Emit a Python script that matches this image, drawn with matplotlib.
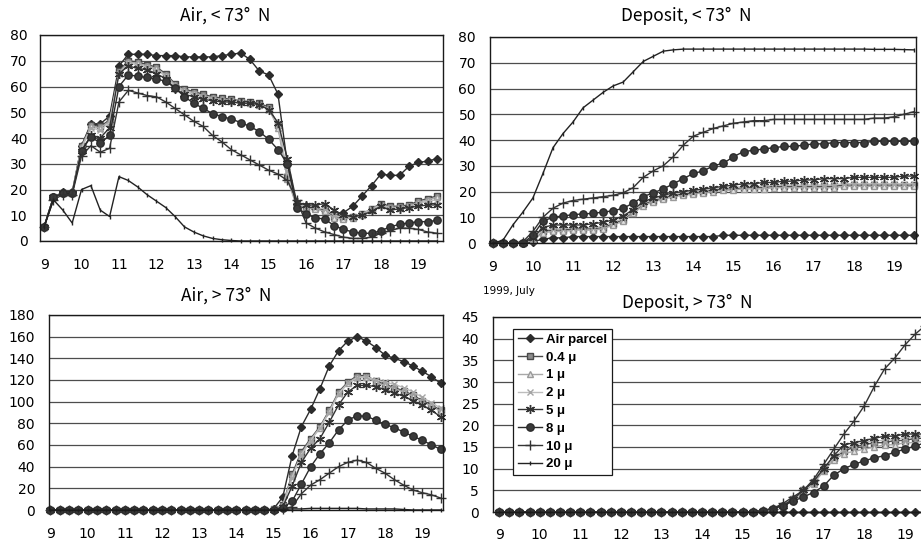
import numpy as np
import matplotlib.pyplot as plt


plt.rcParams["font.family"] = ["DejaVu Sans"]

# 6-hourly steps, July 1999
DAYS = np.arange(9.0, 19.51, 0.25)
DAY_TICKS = [9, 10, 11, 12, 13, 14, 15, 16, 17, 18, 19]
SIZE_LABELS = ["Air parcel", "0.4 μ", "1 μ", "2 μ", "5 μ", "8 μ", "10 μ", "20 μ"]

# ---- Air, < 73 N ----
AIR_LO_PARCEL = [5.5, 17, 19, 19, 37, 45.5, 45.5, 48.5, 68, 72.5,
                 72.5, 72.5, 72, 72, 72, 71.5, 71.5, 71.5, 71.5, 72,
                 72.5, 73, 70.5, 66, 64.5, 57, 30, 14.5, 13.5, 13,
                 12, 10.5, 11, 13.5, 17.5, 21.5, 26, 25.5, 25.5, 29,
                 30.5, 31, 32]
AIR_LO_04 = [5.5, 17, 18.5, 18.5, 37, 45, 44.5, 47, 66, 70,
             69.5, 68.5, 67.5, 65, 61, 59, 58, 57, 56, 55.5,
             55, 54.5, 54, 53.5, 52, 45, 25, 14, 13, 13,
             12, 9.5, 9, 9.5, 10.5, 12.5, 14.5, 13.5, 13.5, 14,
             15.5, 16.5, 17.5]
AIR_LO_1 = [5.5, 17, 18.5, 18.5, 36.5, 44.5, 44, 46.5, 65.5, 69.5,
            69, 68, 67, 64.5, 60.5, 58.5, 57.5, 56.5, 55.5, 55,
            54.5, 54, 53.5, 53, 51.5, 44, 24, 13.5, 13, 12.5,
            11.5, 9, 8.5, 9, 10, 12, 14, 13, 13, 13.5,
            15, 16, 17]
AIR_LO_2 = [5.5, 17, 18.5, 18.5, 36, 44, 43, 46, 65, 69,
            68.5, 67.5, 66.5, 64, 60, 58, 57, 56, 55, 54.5,
            54.5, 54, 53.5, 53, 51, 45, 27, 14, 13.5, 13,
            12.5, 10, 9, 9.5, 10.5, 12.5, 14, 13, 13, 13.5,
            14.5, 15.5, 16]
AIR_LO_5 = [5.5, 17, 18.5, 18.5, 35, 41, 40, 44, 65, 68,
            67, 66.5, 65, 63, 59, 57, 56, 55, 54.5, 54,
            54, 53.5, 53.5, 53, 51, 46, 32, 15, 14, 14,
            14.5, 12, 10, 9.5, 10, 11.5, 13.5, 12, 12.5, 13,
            13.5, 14, 14]
AIR_LO_8 = [5.5, 17, 18.5, 18.5, 35, 40.5, 38, 41, 60, 64.5,
            64, 63.5, 63, 62, 59.5, 56, 53.5, 51.5, 49.5, 48.3,
            47.4, 46, 44.5, 42.5, 39.5, 35.5, 30, 13, 10.5, 9,
            8.5, 6, 4.5, 3.5, 3, 3, 4, 5.5, 6.5, 7,
            7.5, 7.5, 8]
AIR_LO_10 = [5.5, 16, 18, 18, 33, 37, 34.5, 36, 54, 58.5,
             57.5, 56.5, 56, 54, 51.5, 49, 46.5, 44.5, 41, 38.5,
             35.5, 33.5, 31.5, 29.5, 27.5, 26, 23.5, 16, 7, 5,
             3.5, 2.5, 1.5, 1, 1, 1.5, 3, 4, 5, 5,
             4.5, 3.5, 3]
AIR_LO_20 = [5.5, 16, 12, 7, 20, 21.5, 12, 9.5, 25, 23.5,
             21, 18, 15.5, 13, 9.5, 5.5, 3.5, 2, 1, 0.5,
             0.2, 0, 0, 0, 0, 0, 0, 0, 0, 0,
             0, 0, 0, 0, 0, 0, 0, 0, 0, 0,
             0, 0, 0]

# ---- Deposit, < 73 N ----
DEP_LO_PARCEL = [0, 0, 0, 0, 0.5, 1.5, 2, 2, 2.5, 2.5,
                 2.5, 2.5, 2.5, 2.5, 2.5, 2.5, 2.5, 2.5, 2.5, 2.5,
                 2.5, 2.5, 2.5, 3, 3, 3, 3, 3, 3, 3,
                 3, 3, 3, 3, 3, 3, 3, 3, 3, 3,
                 3, 3, 3]
DEP_LO_04 = [0, 0, 0, 0, 1, 4.5, 5, 5, 5.5, 5.5,
             5.5, 6, 7.5, 9, 12, 15, 16.5, 17.5, 18.5, 19,
             19.5, 20, 20.5, 21, 21, 21.5, 21.5, 21.5, 22, 22,
             22, 22, 22, 22, 22, 22.5, 22.5, 22.5, 22.5, 22.5,
             22.5, 22.5, 22.5]
DEP_LO_1 = [0, 0, 0, 0, 1, 4, 4.5, 4.5, 5, 5,
            5, 5.5, 7, 8.5, 11.5, 14.5, 16, 17, 18, 18.5,
            19, 19.5, 20, 20.5, 20.5, 21, 21, 21, 21.5, 21.5,
            21.5, 21.5, 21.5, 21.5, 21.5, 22, 22, 22, 22, 22,
            22, 22, 22]
DEP_LO_2 = [0, 0, 0, 0, 1.5, 5, 5.5, 5.5, 6, 6,
            6, 6.5, 8, 9.5, 12.5, 15.5, 17, 18, 19, 19.5,
            20, 20.5, 21, 21.5, 21.5, 22, 22, 22, 22.5, 22.5,
            22.5, 22.5, 22.5, 22.5, 22.5, 23, 23, 23, 23, 23,
            23, 23, 23]
DEP_LO_5 = [0, 0, 0, 0, 2, 6, 7, 7, 7, 7,
            7.5, 8, 9, 10.5, 13, 16, 17.5, 18.5, 19.5, 20,
            20.5, 21, 21.5, 22, 22.5, 23, 23, 23.5, 23.5, 24,
            24, 24.5, 24.5, 25, 25, 25, 25.5, 25.5, 25.5, 25.5,
            25.5, 26, 26]
DEP_LO_8 = [0, 0, 0, 0, 3, 8.5, 10, 10.5, 11, 11.3,
            11.5, 12, 12.5, 13.5, 15.5, 18, 19.5, 21, 23, 25,
            27, 28, 30, 31, 33.5, 35.5, 36, 36.5, 37, 37.5,
            37.5, 38, 38.5, 38.5, 39, 39, 39, 39, 39.5, 39.5,
            39.5, 39.5, 39.5]
DEP_LO_10 = [0, 0, 0, 0.5, 4.5, 10, 13.5, 15.5, 16.5, 17,
             17.5, 18, 18.5, 19.5, 21.5, 25.5, 28, 30, 33.5, 38,
             41.5, 43, 44.5, 45.5, 46.5, 47, 47.5, 47.5, 48, 48,
             48, 48, 48, 48, 48, 48, 48, 48, 48.5, 48.5,
             49, 50, 51]
DEP_LO_20 = [0, 1, 7, 12, 17.5, 27, 37, 42.5, 47, 52.5,
             55.5, 58.5, 61, 62.5, 66.5, 70.5, 72.5, 74.5, 75, 75.3,
             75.3, 75.3, 75.3, 75.3, 75.3, 75.3, 75.3, 75.3, 75.3, 75.3,
             75.3, 75.3, 75.3, 75.3, 75.3, 75.3, 75.3, 75.3, 75.2, 75.2,
             75.2, 75.1, 75]

# ---- Air, > 73 N ----
AIR_HI_PARCEL = [0, 0, 0, 0, 0, 0, 0, 0, 0, 0,
                 0, 0, 0, 0, 0, 0, 0, 0, 0, 0,
                 0, 0, 0, 0, 1, 12, 50, 77, 93, 112,
                 133, 147, 156, 160, 156, 150, 143, 140, 137, 133,
                 128, 123, 117]
AIR_HI_04 = [0, 0, 0, 0, 0, 0, 0, 0, 0, 0,
             0, 0, 0, 0, 0, 0, 0, 0, 0, 0,
             0, 0, 0, 0, 0.5, 5, 33, 54, 66, 77,
             92, 109, 118, 124, 124, 119, 116, 113, 110, 106,
             101, 97, 92]
AIR_HI_1 = [0, 0, 0, 0, 0, 0, 0, 0, 0, 0,
            0, 0, 0, 0, 0, 0, 0, 0, 0, 0,
            0, 0, 0, 0, 0.5, 4.5, 31, 52, 65, 76,
            91, 108, 117, 123, 123, 118, 115, 112, 109, 105,
            100, 96, 91]
AIR_HI_2 = [0, 0, 0, 0, 0, 0, 0, 0, 0, 0,
            0, 0, 0, 0, 0, 0, 0, 0, 0, 0,
            0, 0, 0, 0, 0.5, 4, 30, 51, 64, 76,
            90, 107, 117, 122, 123, 120, 118, 116, 113, 109,
            104, 99, 94]
AIR_HI_5 = [0, 0, 0, 0, 0, 0, 0, 0, 0, 0,
            0, 0, 0, 0, 0, 0, 0, 0, 0, 0,
            0, 0, 0, 0, 0, 3, 22, 44, 57, 66,
            81, 97, 109, 115, 115, 114, 111, 108, 105, 101,
            97, 92, 86]
AIR_HI_8 = [0, 0, 0, 0, 0, 0, 0, 0, 0, 0,
            0, 0, 0, 0, 0, 0, 0, 0, 0, 0,
            0, 0, 0, 0, 0, 2, 8, 24, 40, 52,
            62, 74, 83, 87, 86.5, 83, 79, 76, 72, 68,
            64.5, 60, 56]
AIR_HI_10 = [0, 0, 0, 0, 0, 0, 0, 0, 0, 0,
             0, 0, 0, 0, 0, 0, 0, 0, 0, 0,
             0, 0, 0, 0, 0, 0.5, 3, 15, 23, 28,
             34, 40, 44, 46, 44, 38.5, 34, 28, 23, 18.5,
             16, 14, 11]
AIR_HI_20 = [0, 0, 0, 0, 0, 0, 0, 0, 0, 0,
             0, 0, 0, 0, 0, 0, 0, 0, 0, 0,
             0, 0, 0, 0, 0, 0.5, 1, 1, 1.5, 1.5,
             1.5, 1.5, 1.5, 1.5, 1, 1, 1, 1, 0.5, 0,
             0, 0, 0]

# ---- Deposit, > 73 N ----
DEP_HI_PARCEL = [0, 0, 0, 0, 0, 0, 0, 0, 0, 0,
                 0, 0, 0, 0, 0, 0, 0, 0, 0, 0,
                 0, 0, 0, 0, 0, 0, 0, 0, 0, 0,
                 0, 0, 0, 0, 0, 0, 0, 0, 0, 0,
                 0, 0, 0]
DEP_HI_04 = [0, 0, 0, 0, 0, 0, 0, 0, 0, 0,
             0, 0, 0, 0, 0, 0, 0, 0, 0, 0,
             0, 0, 0, 0, 0, 0, 0.3, 0.8, 1.5, 3,
             5, 7, 10, 12.5, 14, 15, 15.5, 16, 16, 16.5,
             16.5, 17, 17]
DEP_HI_1 = [0, 0, 0, 0, 0, 0, 0, 0, 0, 0,
            0, 0, 0, 0, 0, 0, 0, 0, 0, 0,
            0, 0, 0, 0, 0, 0, 0.3, 0.8, 1.5, 3,
            4.5, 6.5, 9.5, 12, 13.5, 14, 14.5, 15, 15.5, 15.5,
            16, 16, 16.5]
DEP_HI_2 = [0, 0, 0, 0, 0, 0, 0, 0, 0, 0,
            0, 0, 0, 0, 0, 0, 0, 0, 0, 0,
            0, 0, 0, 0, 0, 0, 0.3, 0.8, 1.5, 3,
            5, 7, 10, 12.5, 14.5, 15.5, 16, 16.5, 16.5, 17,
            17, 17.5, 17.5]
DEP_HI_5 = [0, 0, 0, 0, 0, 0, 0, 0, 0, 0,
            0, 0, 0, 0, 0, 0, 0, 0, 0, 0,
            0, 0, 0, 0, 0, 0, 0.3, 0.8, 1.5, 3,
            5, 7, 10, 13, 15.5, 16, 16.5, 17, 17.5, 17.5,
            18, 18, 18]
DEP_HI_8 = [0, 0, 0, 0, 0, 0, 0, 0, 0, 0,
            0, 0, 0, 0, 0, 0, 0, 0, 0, 0,
            0, 0, 0, 0, 0, 0, 0.3, 0.8, 1.5, 2.5,
            3.5, 4.5, 6, 8.5, 10, 11, 11.8, 12.5, 13, 13.8,
            14.5, 15.2, 16]
DEP_HI_10 = [0, 0, 0, 0, 0, 0, 0, 0, 0, 0,
             0, 0, 0, 0, 0, 0, 0, 0, 0, 0,
             0, 0, 0, 0, 0, 0, 0.3, 0.8, 2, 3.5,
             5, 7.5, 11, 14.5, 18, 21, 24.5, 29, 33, 35.5,
             38.5, 41, 43]
DEP_HI_20 = [0, 0, 0, 0, 0, 0, 0, 0, 0, 0,
             0, 0, 0, 0, 0, 0, 0, 0, 0, 0,
             0, 0, 0, 0, 0, 0, 0, 0, 0, 0,
             0, 0, 0, 0, 0, 0, 0, 0, 0, 0,
             0, 0, 0]


STYLES = [
    dict(color="#2b2b2b", marker="D", ms=4.5, mfc="#2b2b2b", mec="#2b2b2b"),
    dict(color="#4a4a4a", marker="s", ms=4.8, mfc="#8c8c8c", mec="#4a4a4a"),
    dict(color="#a8a8a8", marker="^", ms=5, mfc="#e2e2e2", mec="#9a9a9a"),
    dict(color="#bdbdbd", marker="x", ms=5, mec="#a5a5a5"),
    dict(color="#333333", marker=(6, 2, 0), ms=6.5, mec="#333333"),
    dict(color="#2b2b2b", marker="o", ms=5.3, mfc="#3a3a3a", mec="#2b2b2b"),
    dict(color="#333333", marker="+", ms=6.5, mec="#333333"),
    dict(color="#222222", marker="|", ms=3, mec="#222222"),
]

W, H = 921, 550


def px_rect(left, top, right, bottom):
    return [left / W, 1 - bottom / H, (right - left) / W, (bottom - top) / H]


def draw_panel(fig, rect, series, xlim, ymax, ystep, ypad, xpad):
    ax = fig.add_axes(rect)
    for vals, style, label in zip(series, STYLES, SIZE_LABELS):
        ax.plot(DAYS, vals, label=label, lw=1.0, clip_on=False, **style)
    ax.set_xlim(*xlim)
    ax.set_ylim(0, ymax)
    ax.set_xticks(DAY_TICKS)
    ax.set_yticks(np.arange(0, ymax + 1, ystep))
    ax.yaxis.grid(True, color="#4d4d4d", lw=0.9)
    ax.set_axisbelow(True)
    ax.tick_params(axis="y", length=0, pad=ypad, labelsize=10)
    ax.tick_params(axis="x", length=0, pad=xpad, labelsize=10)
    for sp in ax.spines.values():
        sp.set_color("#1a1a1a")
        sp.set_linewidth(1.0)
    return ax


fig = plt.figure(figsize=(W / 100, H / 100), dpi=100)

ax1 = draw_panel(fig, px_rect(40, 35, 443, 241),
                 [AIR_LO_PARCEL, AIR_LO_04, AIR_LO_1, AIR_LO_2,
                  AIR_LO_5, AIR_LO_8, AIR_LO_10, AIR_LO_20],
                 (8.89, 19.66), 80, 10, 9, 12)
ax2 = draw_panel(fig, px_rect(490, 37, 916, 243),
                 [DEP_LO_PARCEL, DEP_LO_04, DEP_LO_1, DEP_LO_2,
                  DEP_LO_5, DEP_LO_8, DEP_LO_10, DEP_LO_20],
                 (8.93, 19.55), 80, 10, 10, 12)
ax3 = draw_panel(fig, px_rect(49, 315, 443, 510),
                 [AIR_HI_PARCEL, AIR_HI_04, AIR_HI_1, AIR_HI_2,
                  AIR_HI_5, AIR_HI_8, AIR_HI_10, AIR_HI_20],
                 (8.96, 19.56), 180, 20, 10, 12)
ax4 = draw_panel(fig, px_rect(493, 317, 932, 512),
                 [DEP_HI_PARCEL, DEP_HI_04, DEP_HI_1, DEP_HI_2,
                  DEP_HI_5, DEP_HI_8, DEP_HI_10, DEP_HI_20],
                 (8.85, 19.67), 45, 5, 10, 11.5)

title_font = dict(family=["Noto Sans CJK JP", "DejaVu Sans"], fontsize=12.5,
                  ha="center", va="center")
fig.text(225 / W, 1 - 16 / H, "Air, < 73°  N", **title_font)
fig.text(686 / W, 1 - 16 / H, "Deposit, < 73°  N", **title_font)
fig.text(226 / W, 1 - 296 / H, "Air, > 73°  N", **title_font)
fig.text(687 / W, 1 - 303 / H, "Deposit, > 73°  N", **title_font)
fig.text(509 / W, 1 - 291 / H, "1999, July", fontsize=7.5,
         ha="center", va="center")

leg = ax4.legend(loc="upper left", bbox_to_anchor=(0.046, 0.938),
                 borderaxespad=0, fontsize=9.5, frameon=True, fancybox=False,
                 edgecolor="#1a1a1a", framealpha=1, borderpad=0.35,
                 labelspacing=0.42, handlelength=1.8, handletextpad=0.35,
                 prop=dict(family="Liberation Sans", weight="bold", size=9.5))
leg.get_frame().set_linewidth(0.9)

fig.savefig("out.png", dpi=100)
